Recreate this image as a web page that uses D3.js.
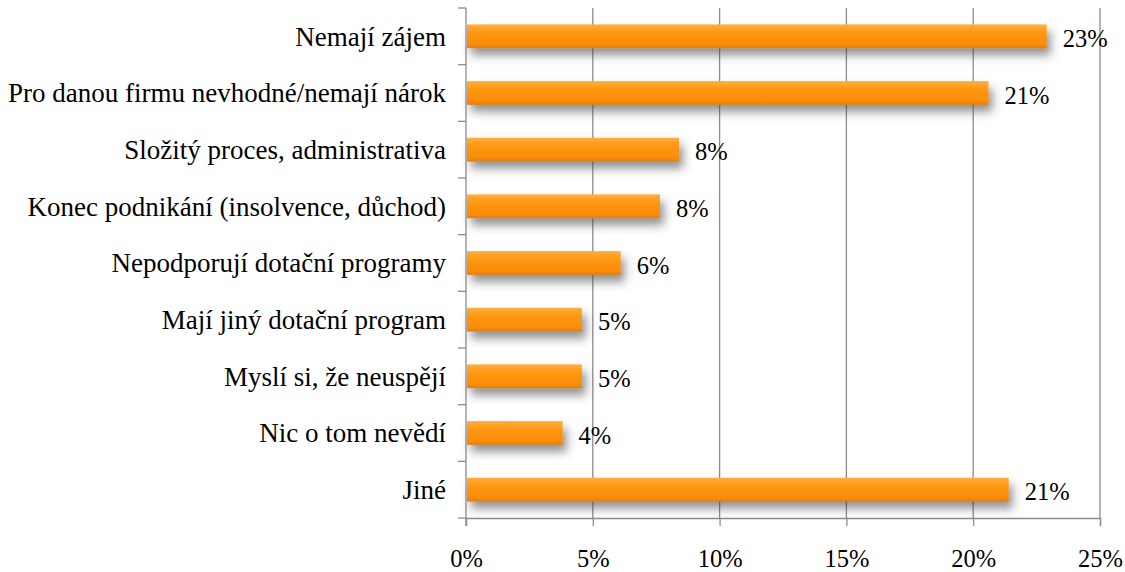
<!DOCTYPE html>
<html lang="en">
<head>
<meta charset="UTF-8">
<title>Důvody</title>
<script src="https://cdnjs.cloudflare.com/ajax/libs/d3/7.8.5/d3.min.js"></script>
<style>
  body { margin: 0; background: #fff; }
  svg text { fill: #000; }
  .grid line { stroke: #8c8c8c; stroke-width: 1.3; }
  .axis path, .axis line { stroke: #8c8c8c; stroke-width: 1.3; }
</style>
</head>
<body>
<div id="chart"></div>
<script>
// data
var categories = [
  "Nemají zájem",
  "Pro danou firmu nevhodné/nemají nárok",
  "Složitý proces, administrativa",
  "Konec podnikání (insolvence, důchod)",
  "Nepodporují dotační programy",
  "Mají jiný dotační program",
  "Myslí si, že neuspějí",
  "Nic o tom nevědí",
  "Jiné"
];
var values = [22.9, 20.6, 8.4, 7.65, 6.1, 4.57, 4.57, 3.81, 21.4];
var valueLabels = ["23%", "21%", "8%", "8%", "6%", "5%", "5%", "4%", "21%"];
var xTicks = [0, 5, 10, 15, 20, 25];

var width = 1125, height = 572,
    plotLeft = 466, plotRight = 1100, plotTop = 8, plotBottom = 518,
    fontFam = '"Liberation Serif"';

var svg = d3.select("#chart").append("svg")
    .attr("width", width)
    .attr("height", height);

var defs = svg.append("defs");
var grad = defs.append("linearGradient")
    .attr("id", "barGrad")
    .attr("x1", 0).attr("y1", 0).attr("x2", 0).attr("y2", 1);
grad.append("stop").attr("offset", "0%").attr("stop-color", "#ffae3c");
grad.append("stop").attr("offset", "35%").attr("stop-color", "#ff9712");
grad.append("stop").attr("offset", "85%").attr("stop-color", "#fb8c05");
grad.append("stop").attr("offset", "100%").attr("stop-color", "#d87f1e");

var shadow = defs.append("filter")
    .attr("id", "shadow")
    .attr("x", "-10%").attr("y", "-50%")
    .attr("width", "130%").attr("height", "250%");
shadow.append("feDropShadow")
    .attr("dx", 4).attr("dy", 7)
    .attr("stdDeviation", 5)
    .attr("flood-color", "#3a3a3a")
    .attr("flood-opacity", 0.55);

var x = d3.scaleLinear().domain([0, 25]).range([plotLeft, plotRight]);
var y = d3.scaleBand().domain(categories).range([plotTop, plotBottom]).paddingInner(0.58).paddingOuter(0.29);

// gridlines
svg.append("g").attr("class", "grid")
  .selectAll("line")
  .data(xTicks.slice(1))
  .enter().append("line")
    .attr("x1", function (d) { return x(d); })
    .attr("x2", function (d) { return x(d); })
    .attr("y1", plotTop)
    .attr("y2", plotBottom);

// bottom axis
var xAxis = svg.append("g").attr("class", "axis")
    .attr("transform", "translate(0," + plotBottom + ")")
    .call(d3.axisBottom(x).tickValues(xTicks).tickSizeOuter(0).tickSize(8).tickPadding(24)
      .tickFormat(function (d) { return d + "%"; }));
xAxis.attr("font-family", null);
xAxis.selectAll("text").style("font-size", "24.5px").style("font-family", fontFam).attr("fill", "#000");

// left axis with ticks between categories
var band = (plotBottom - plotTop) / categories.length;
var yAxis = svg.append("g").attr("class", "axis");
yAxis.append("line")
    .attr("x1", plotLeft).attr("x2", plotLeft)
    .attr("y1", plotTop).attr("y2", plotBottom + 8);
yAxis.selectAll("line.tick")
  .data(d3.range(categories.length + 1))
  .enter().append("line")
    .attr("class", "tick")
    .attr("x1", plotLeft - 8).attr("x2", plotLeft)
    .attr("y1", function (d) { return plotTop + d * band; })
    .attr("y2", function (d) { return plotTop + d * band; });

yAxis.selectAll("text")
  .data(categories)
  .enter().append("text")
    .attr("x", plotLeft - 20)
    .attr("y", function (d) { return y(d) + y.bandwidth() / 2; })
    .attr("dy", "0.35em")
    .attr("text-anchor", "end")
    .style("font-size", "27px")
    .style("font-family", fontFam)
    .text(function (d) { return d; });

// bars
svg.append("g")
  .selectAll("rect")
  .data(values)
  .enter().append("rect")
    .attr("x", x(0) + 1)
    .attr("y", function (d, i) { return y(categories[i]); })
    .attr("width", function (d) { return x(d) - x(0) - 1; })
    .attr("height", y.bandwidth())
    .attr("fill", "url(#barGrad)")
    .attr("filter", "url(#shadow)");

// value labels
svg.append("g")
  .selectAll("text")
  .data(values)
  .enter().append("text")
    .attr("x", function (d) { return x(d) + 16; })
    .attr("y", function (d, i) { return y(categories[i]) + y.bandwidth() / 2 + 2; })
    .attr("dy", "0.35em")
    .style("font-size", "24.5px")
    .style("font-family", fontFam)
    .text(function (d, i) { return valueLabels[i]; });
</script>
</body>
</html>
